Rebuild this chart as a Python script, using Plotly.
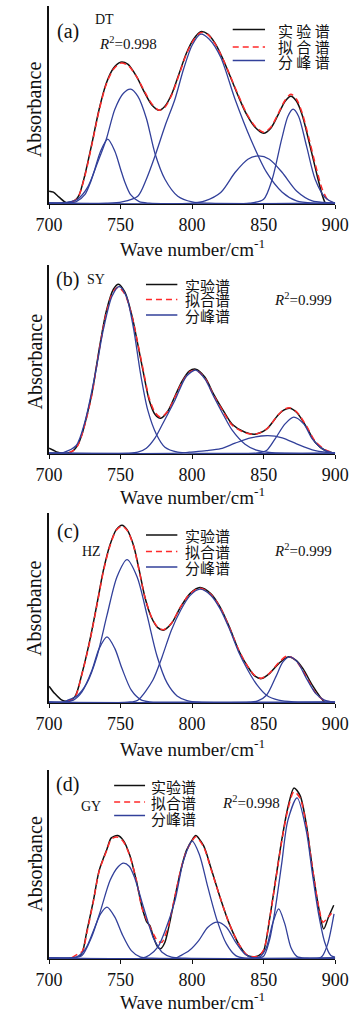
import plotly.graph_objects as go

# ---------------- data (absorbance in arbitrary units) ----------------
tick_vals = [700, 750, 800, 850, 900]
tick_text = ["700", "750", "800", "850", "900"]
panel_labels = ["(a)", "(b)", "(c)", "(d)"]
sample_names = ["DT", "SY", "HZ", "GY"]
r2_values = ["0.998", "0.999", "0.999", "0.998"]
legend_names_spaced = ["实 验 谱", "拟 合 谱", "分 峰 谱"]
legend_names = ["实验谱", "拟合谱", "分峰谱"]

# (a) DT
dt_exp_wn = [700, 703, 707, 712, 716, 719, 721, 725, 730, 735, 740, 745, 750, 755, 761, 767, 772, 777, 781, 786, 791,
             796, 801, 806, 811, 816, 821, 826, 832, 838, 844, 850, 855, 860, 865, 869, 873, 877, 882, 887, 891, 893]
dt_exp_abs = [12, 11, 6, 0.5, 1.5, 4, 8, 28, 60, 94, 120, 135, 141, 139, 127, 110, 98, 93, 97, 110, 130,
              150, 164, 171.5, 169, 160, 146, 129, 108, 89, 76, 70, 75, 88, 102, 107, 102, 88, 60, 30, 8, 0]
dt_fit_wn = [716, 719, 721, 725, 730, 735, 740, 745, 750, 755, 761, 767, 772, 777, 781, 786, 791, 796, 801, 806,
             811, 816, 821, 826, 832, 838, 844, 850, 855, 860, 865, 869, 873, 877, 882, 887, 891, 895, 899]
dt_fit_abs = [1, 4, 8, 27, 59, 93, 119, 134, 140, 138, 127, 111, 99, 93, 96, 109, 129, 149, 163, 170.5,
              168.5, 159.5, 146, 129.5, 109, 90, 77, 71, 76, 89, 103, 109, 104, 90, 63, 34, 14, 3, 0.3]
dt_p1_wn = [700, 712, 719, 725, 729, 732, 736, 741, 746, 750, 753, 757, 763, 770, 900]
dt_p1_abs = [0, 0, 1.5, 8.5, 21, 34, 52, 64, 52, 34, 21, 8.5, 1.5, 0, 0]
dt_p2_wn = [700, 708, 715, 720, 727, 734, 740, 746, 752, 757, 762, 768, 774, 781, 790, 800, 812, 900]
dt_p2_abs = [0, 0.3, 1.5, 4, 16, 41, 64, 94, 110, 114, 107, 85, 50, 24, 7, 1.3, 0, 0]
dt_p3_wn = [700, 740, 751, 762, 768, 774, 781, 788, 794, 800, 806, 812, 820, 830, 841, 852, 863, 873, 885, 900]
dt_p3_abs = [0, 0, 1.3, 7, 24, 47, 77, 104, 134, 158, 169, 164, 146, 104, 64, 31, 11, 2.3, 0, 0]
dt_p4_wn = [700, 800, 809, 820, 830, 839, 846.5, 854, 863, 873, 884, 893, 900]
dt_p4_abs = [0, 0, 2.3, 10.7, 30.7, 44, 47.3, 44, 30.7, 12.3, 2.3, 0.7, 0]
dt_p5_wn = [700, 840, 850, 856, 862.6, 867, 870.6, 874.4, 880, 886, 893, 899, 900]
dt_p5_abs = [0, 0, 4, 24, 64, 87, 94, 87, 57, 24, 5.7, 0.7, 0.5]

# (b) SY
sy_exp_wn = [700, 703, 706, 710, 714, 717, 720, 723, 726, 730, 733, 736, 740, 745, 748.5, 753, 758, 762, 766, 770, 774,
             778, 783, 788, 793, 798, 802.5, 809, 815, 822, 828, 837, 844, 852, 860, 864, 868, 873, 880, 886, 893, 898]
sy_exp_abs = [5, 3, 1, 0, 0.5, 2.7, 8, 19, 35, 60, 86, 112, 142, 164, 169, 161, 137, 109, 80, 53, 39,
              35, 42, 57, 72, 82, 84, 76, 59, 42, 29, 21, 19, 24, 38, 43, 45, 41, 26, 11, 2.7, 0.5]
sy_fit_wn = [714, 717, 720, 723, 726, 730, 733, 736, 740, 745, 748.5, 753, 758, 762, 766, 770, 774, 778, 783, 788,
             793, 798, 802.5, 809, 815, 822, 828, 837, 844, 852, 860, 864, 868, 873, 880, 886, 893, 899]
sy_fit_abs = [0.5, 2.5, 7.5, 18.5, 34, 59, 85, 111, 140, 162, 166, 159, 137, 110, 82, 55, 41, 36, 42, 56,
              71, 81, 83, 75, 58, 41, 28, 20.5, 19, 24, 38, 43.5, 45.5, 41.5, 27, 12, 3.5, 0.5]
sy_p1_wn = [700, 706, 710, 719, 725, 732, 738, 744, 749, 754, 759, 764, 769, 775, 781, 790, 800, 900]
sy_p1_abs = [0, 0, 0.7, 7.7, 31, 77, 124, 157, 166.7, 157, 125, 79, 43, 19, 6, 1, 0, 0]
sy_p2_wn = [700, 755, 762, 768, 774, 780, 788, 796, 802.5, 809, 815, 822, 828, 837, 845, 854, 865, 900]
sy_p2_abs = [0, 0, 1, 5, 15, 31, 53, 77, 83, 74, 57, 38, 23, 9, 3, 0.7, 0, 0]
sy_p3_wn = [700, 790, 798, 810, 820, 830, 841, 853, 863, 873, 884, 895, 900]
sy_p3_abs = [0, 0, 1, 2.5, 4.5, 10, 15.3, 17.5, 15.3, 9.3, 3.3, 0.7, 0.3]
sy_p4_wn = [700, 845, 852, 858, 865, 871, 878, 884, 891, 897, 900]
sy_p4_abs = [0, 0, 2.7, 14.3, 29.3, 36, 29.3, 14.3, 4.3, 0.7, 0.3]

# (c) HZ
hz_exp_wn = [700, 704, 709, 712.5, 718, 723, 728.5, 734, 738, 742.5, 747, 751, 754.5, 759, 763, 767, 771.5, 776, 780,
             785.5, 792, 798.5, 805.5, 813, 819.5, 826, 832.5, 839, 844, 848.5, 854, 860.5, 867, 872, 877.5, 884,
             889.5, 892.5]
hz_exp_abs = [16, 8.6, 2, 1, 5.3, 28.6, 62, 102, 132, 157, 172.6, 177, 172.6, 157, 132, 105, 85, 74.6, 72,
              78.6, 95.3, 108.6, 114.6, 108.6, 95.3, 75.3, 52, 35.3, 26, 23.6, 28.6, 38.6, 45.3, 42.6, 33.6, 17,
              5.3, 0]
hz_fit_wn = [713, 718, 723, 728.5, 734, 738, 742.5, 747, 751, 754.5, 759, 763, 767, 771.5, 776, 780, 785.5, 792,
             798.5, 805.5, 813, 819.5, 826, 832.5, 839, 844, 848.5, 854, 860.5, 866, 870, 875, 881, 886, 890, 894, 899]
hz_fit_abs = [1, 5, 28, 61, 101, 131, 156, 172, 176, 172, 156.5, 131.5, 105, 85.5, 75, 72.5, 79, 95.5,
              108.5, 114, 108, 95, 75, 52.5, 35.5, 26.5, 24, 29, 39.5, 46, 44.5, 37, 22.5, 10, 4, 1, 0.2]
hz_p1_wn = [700, 710, 717, 723, 730, 735, 740.5, 746, 751, 757.5, 764, 770.5, 780, 900]
hz_p1_abs = [0, 0, 2, 10.3, 32, 53.6, 65.3, 53.6, 33.6, 12, 2.6, 0.3, 0, 0]
hz_p2_wn = [700, 710, 712.5, 719.5, 726.5, 733.5, 740.5, 747.5, 754.5, 761.5, 768.5, 775.5, 782.5, 789.5, 796.5,
            805, 900]
hz_p2_abs = [0, 0, 1.6, 6.3, 19.3, 46, 87, 125.5, 142.6, 125.5, 87, 46, 19.3, 6.3, 1.6, 0, 0]
hz_p3_wn = [700, 755, 762, 772.5, 779, 785.5, 792, 798.5, 805.5, 813, 819.5, 826, 832.5, 839, 845.5, 852, 860.5,
            871, 900]
hz_p3_abs = [0, 0, 2, 22, 45.3, 72, 92, 106.6, 113, 107, 93.6, 73.6, 50.3, 32, 17, 7, 2, 0.3, 0]
hz_p4_wn = [700, 840, 845.5, 852, 858.5, 863.5, 868, 873.5, 880, 886.5, 892.5, 899, 900]
hz_p4_abs = [0, 0, 1, 7, 25.3, 40.3, 45.3, 40.3, 23.6, 8.6, 2, 0, 0]

# (d) GY
gy_exp_wn = [721, 723.3, 726.5, 731, 735, 740.5, 743.5, 748, 752, 756.5, 761, 765, 768.4, 770.5, 773, 776, 778,
             781, 783.5, 788, 792, 796, 800.5, 802.5, 808, 813, 819.5, 826, 832.5, 838, 841, 846.5, 850, 854,
             858.3, 862.6, 867, 871.2, 875.5, 879.8, 884, 888.4, 892, 895.3, 899]
gy_exp_abs = [1.6, 6, 27.6, 57.6, 87.6, 109.3, 120.3, 122.6, 117.6, 102.6, 77.6, 51, 36, 32.6, 21, 11, 9.5,
              16, 30, 61, 87.6, 107.6, 119.3, 122.6, 112.6, 91, 61, 34.3, 14.3, 3.3, 1.6, 2.6, 7.6, 37.6,
              77.6, 117.6, 151, 170.3, 162.6, 134.3, 91, 51, 29.3, 41, 53]
gy_fit_wn = [716, 720, 723.3, 726.5, 731, 735, 740.5, 743.5, 748, 752, 756.5, 761, 765, 768.4, 772.7, 776, 779,
             781, 783.5, 788, 792, 796, 800.5, 802.5, 808, 813, 819.5, 826, 832.5, 838, 841, 846.5, 850, 854,
             858.3, 862.6, 867, 871.2, 875.5, 879.8, 884, 888.4, 891.5, 894.5, 897.5]
gy_fit_abs = [0.5, 4, 7, 26, 57, 87, 108.5, 119, 121, 116.5, 102, 78, 50, 38, 25, 17, 16,
              22, 33, 62, 88, 107, 118.5, 121.5, 111.5, 90, 61, 34.5, 14.5, 3.5, 1.5, 2.5, 8, 38,
              77, 116.5, 149, 166.5, 160, 133, 91.5, 52, 36, 40, 45]
gy_p1_wn = [700, 712, 719, 725.5, 732, 736, 740.5, 746, 751, 757.5, 764, 772, 900]
gy_p1_abs = [0, 0, 1, 9.3, 31, 44.3, 51, 41, 24.3, 7.6, 1, 0, 0]
gy_p2_wn = [700, 712, 717, 723, 729.7, 736, 742.6, 748, 752, 756, 759.7, 766, 772.7, 776, 779, 785.6, 795, 900]
gy_p2_abs = [0, 0, 0.5, 2.6, 21, 47.6, 77.6, 91, 95, 92, 81, 51, 21, 12, 6, 1, 0, 0]
gy_p3_wn = [700, 765, 770, 776, 781, 788, 794, 800, 805, 811, 817.5, 824, 830.5, 837, 900]
gy_p3_abs = [0, 0, 3, 11, 27, 57.6, 97.6, 117, 104, 71, 37.6, 14.3, 2.6, 0, 0]
gy_p4_wn = [700, 788, 792, 798, 804.6, 811, 817.5, 824, 830.4, 836.8, 843.3, 900]
gy_p4_abs = [0, 0, 2.6, 7.6, 17.6, 31, 36, 31, 16, 4.3, 0, 0]
gy_p5_wn = [700, 842, 847.6, 852, 856.2, 860.5, 864.8, 869, 873.4, 880, 900]
gy_p5_abs = [0, 0, 1.6, 11, 34.3, 49.3, 34.3, 11, 1.6, 0, 0]
gy_p6_wn = [700, 842, 849.7, 854, 858.3, 862.6, 866.9, 873.4, 879.8, 884.1, 888.4, 892.7, 897, 900]
gy_p6_abs = [0, 0, 1.6, 17.6, 51, 94.3, 137.6, 160.3, 127.6, 84.3, 44.3, 16, 2.6, 1]
gy_p7_wn = [700, 889, 891, 894.8, 899.2]
gy_p7_abs = [0, 0, 2, 14.3, 44.3]

# ---------------- layout (pixel geometry) ----------------
W, H = 363, 1012
X_LEFT, X_RIGHT = 38, 348
panel_box = [(6, 204), (265, 454), (513, 703), (770, 959)]   # (top, bottom) in px
BLACK = "#111111"
RED = "#ff2a2a"
BLUE = "#32409a"
SERIF = "Liberation Serif"
CJK = "Noto Sans CJK SC"

panels = [
    (dt_exp_wn, dt_exp_abs, dt_fit_wn, dt_fit_abs,
     [(dt_p1_wn, dt_p1_abs), (dt_p2_wn, dt_p2_abs), (dt_p3_wn, dt_p3_abs), (dt_p4_wn, dt_p4_abs),
      (dt_p5_wn, dt_p5_abs)]),
    (sy_exp_wn, sy_exp_abs, sy_fit_wn, sy_fit_abs,
     [(sy_p1_wn, sy_p1_abs), (sy_p2_wn, sy_p2_abs), (sy_p3_wn, sy_p3_abs), (sy_p4_wn, sy_p4_abs)]),
    (hz_exp_wn, hz_exp_abs, hz_fit_wn, hz_fit_abs,
     [(hz_p1_wn, hz_p1_abs), (hz_p2_wn, hz_p2_abs), (hz_p3_wn, hz_p3_abs), (hz_p4_wn, hz_p4_abs)]),
    (gy_exp_wn, gy_exp_abs, gy_fit_wn, gy_fit_abs,
     [(gy_p1_wn, gy_p1_abs), (gy_p2_wn, gy_p2_abs), (gy_p3_wn, gy_p3_abs), (gy_p4_wn, gy_p4_abs),
      (gy_p5_wn, gy_p5_abs), (gy_p6_wn, gy_p6_abs), (gy_p7_wn, gy_p7_abs)]),
]


def px(x):
    return x / W


def py(y):
    return 1 - y / H


fig = go.Figure()
layout = dict(width=W, height=H, margin=dict(l=0, r=0, t=0, b=0), paper_bgcolor="white",
              plot_bgcolor="white", showlegend=False)

for i, (ewn, eab, fwn, fab, peaks) in enumerate(panels):
    n = "" if i == 0 else str(i + 1)
    xa, ya = "x" + n, "y" + n
    fig.add_trace(go.Scatter(x=ewn, y=eab, mode="lines", xaxis=xa, yaxis=ya, hoverinfo="skip",
                             line=dict(color=BLACK, width=1.5, shape="spline", smoothing=0.8)))
    fig.add_trace(go.Scatter(x=fwn, y=fab, mode="lines", xaxis=xa, yaxis=ya, hoverinfo="skip",
                             line=dict(color=RED, width=1.5, dash="6px,4px", shape="spline", smoothing=0.8)))
    for pw, pa in peaks:
        fig.add_trace(go.Scatter(x=pw, y=pa, mode="lines", xaxis=xa, yaxis=ya, hoverinfo="skip",
                                 line=dict(color=BLUE, width=1.3, shape="spline", smoothing=0.8)))
    top, bot = panel_box[i]
    layout["xaxis" + n] = dict(domain=[px(X_LEFT), px(X_RIGHT)], anchor=ya, range=[700, 900],
                               tickvals=tick_vals, ticktext=tick_text, ticks="outside", ticklen=4,
                               tickwidth=1, tickcolor=BLACK, showline=True, linecolor=BLACK, linewidth=1,
                               showgrid=False, zeroline=False,
                               tickfont=dict(family=SERIF, size=18, color=BLACK))
    layout["yaxis" + n] = dict(domain=[py(bot), py(top)], anchor=xa, range=[-0.8, (bot - top) - 0.8],
                               showline=True, linecolor=BLACK, linewidth=1.5, showticklabels=False,
                               ticks="", showgrid=False, zeroline=False)

ann = []
shapes = []


def text(x, y, s, size, family=SERIF, xanchor="center"):
    ann.append(dict(x=px(x), y=py(y), xref="paper", yref="paper", text=s, showarrow=False,
                    xanchor=xanchor, yanchor="middle", font=dict(family=family, size=size, color=BLACK)))


def legend(x0, x1, ys, tx, tys, names, size):
    for k, c in enumerate([BLACK, RED, BLUE]):
        shapes.append(dict(type="line", xref="paper", yref="paper", x0=px(x0), x1=px(x1), y0=py(ys[k]),
                           y1=py(ys[k]), line=dict(color=c, width=1.5, dash="6px,4px" if k == 1 else "solid")))
        text(tx, tys[k], names[k], size, family=CJK, xanchor="left")


# axis titles
absorb_y = [109.5, 361.7, 608.3, 864]
title_y = [248, 495.5, 748, 1001]
for i in range(4):
    ann.append(dict(x=px(22.5), y=py(absorb_y[i]), xref="paper", yref="paper", text="Absorbance",
                    showarrow=False, textangle=-90, xanchor="center", yanchor="middle",
                    font=dict(family=SERIF, size=20, color=BLACK)))
    text(193.5, title_y[i], "Wave number/cm<sup>-1</sup>", 19)

# panel (a)
text(58, 31, panel_labels[0], 20)
text(98.5, 20, sample_names[0], 14)
text(90, 43, "<i>R</i><sup>2</sup>=" + r2_values[0], 15, xanchor="left")
legend(237, 272, [29.5, 47, 60.5], 284, [30, 46.5, 62], legend_names_spaced, 15)
# panel (b)
text(58.5, 280, panel_labels[1], 20)
text(88.5, 279, sample_names[1], 14)
text(280, 298.5, "<i>R</i><sup>2</sup>=" + r2_values[1], 15, xanchor="left")
legend(143, 177, [284.5, 299.5, 315], 183, [285, 299.5, 315], legend_names, 15)
# panel (c)
text(58.5, 531.5, panel_labels[2], 20)
text(83.5, 551.5, sample_names[2], 14)
text(280, 550, "<i>R</i><sup>2</sup>=" + r2_values[2], 15, xanchor="left")
legend(143, 177, [535, 551.5, 567], 183, [535, 551.5, 567.5], legend_names, 15)
# panel (d)
text(58.5, 784.5, panel_labels[3], 20)
text(83.5, 806.5, sample_names[3], 14)
text(223.5, 801.5, "<i>R</i><sup>2</sup>=" + r2_values[3], 15, xanchor="left")
legend(108.5, 142, [785.5, 802, 815.5], 146.5, [786.5, 802.5, 818], legend_names, 15)

layout["annotations"] = ann
layout["shapes"] = shapes
fig.update_layout(**layout)
fig.write_html("out.html")
